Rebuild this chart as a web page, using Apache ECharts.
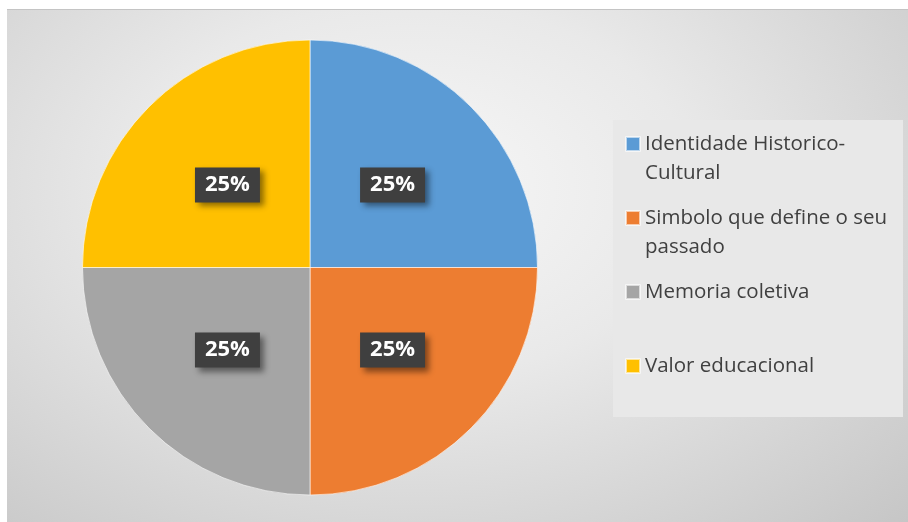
<!DOCTYPE html>
<html>
<head>
<meta charset="utf-8">
<script src="https://cdn.jsdelivr.net/npm/echarts@6/dist/echarts.min.js"></script>
<style>
  html, body { margin: 0; padding: 0; background: #ffffff; width: 908px; height: 522px; overflow: hidden; }
  #chart {
    position: absolute; left: 7px; top: 9px; width: 901px; height: 513px;
    border-top: 1px solid #c4c4c4; box-sizing: border-box;
    background: radial-gradient(ellipse at 45% 35%, #f7f7f7 0%, #e9e9e9 40%, #c6c6c6 100%);
  }
</style>
</head>
<body>
<div id="chart"></div>
<script>
const categories = ['Identidade Historico-Cultural', 'Simbolo que define o seu passado', 'Memoria coletiva', 'Valor educacional'];
const legendLines = [['Identidade Historico-', 'Cultural'], ['Simbolo que define o seu', 'passado'], ['Memoria coletiva', ' '], ['Valor educacional', ' ']];
const values = [25, 25, 25, 25];
const colors = ['#5B9BD5', '#ED7D31', '#A5A5A5', '#FFC000'];

const chart = echarts.init(document.getElementById('chart'), null, { renderer: 'canvas' });
const legendMap = {};
categories.forEach((c, i) => { legendMap[c] = '\n' + legendLines[i].join('\n'); });

chart.setOption({
  animation: false,
  backgroundColor: 'transparent',
  color: colors,
  graphic: [{
    type: 'rect', left: 606, top: 110, z: -1,
    shape: { width: 290, height: 297 },
    style: { fill: '#e8e8e8' }
  }],
  legend: {
    orient: 'vertical',
    left: 618, top: 90.5,
    padding: 0,
    itemGap: -13,
    itemWidth: 14, itemHeight: 14,
    icon: 'rect',
    data: categories,
    formatter: name => legendMap[name],
    textStyle: { fontFamily: 'Open Sans', fontSize: 20.5, color: '#404040', lineHeight: 29 }
  },
  series: [{
    type: 'pie',
    center: [303, 257.5],
    radius: 227.5,
    startAngle: 90,
    clockwise: true,
    data: categories.map((c, i) => ({ name: c, value: values[i] })),
    itemStyle: { borderColor: 'rgba(255,255,255,0.6)', borderWidth: 1 },
    label: {
      show: true,
      position: 'inside',
      formatter: '{d}%',
      fontFamily: 'Open Sans',
      fontWeight: 'bold',
      fontSize: 22,
      lineHeight: 23,
      color: '#ffffff',
      backgroundColor: '#3f3f3f',
      padding: [6, 10],
      shadowColor: 'rgba(0,0,0,0.45)',
      shadowBlur: 6,
      shadowOffsetX: 4,
      shadowOffsetY: 4
    },
    labelLine: { show: false },
    emphasis: { disabled: true }
  }]
});
</script>
</body>
</html>
